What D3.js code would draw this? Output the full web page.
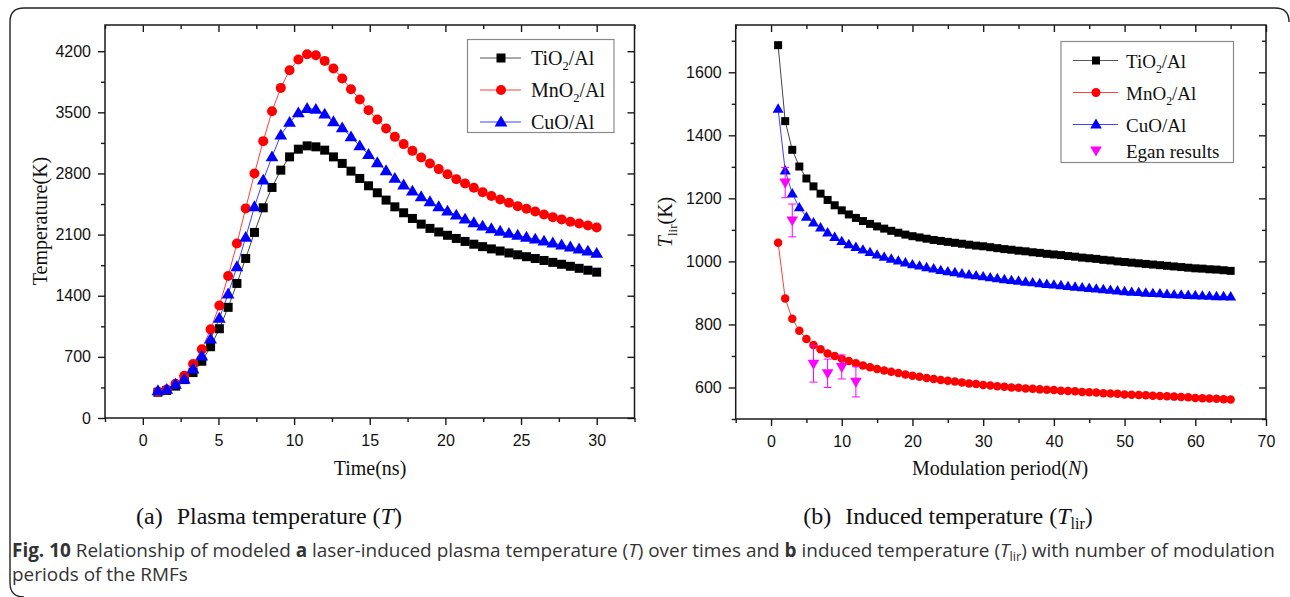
<!DOCTYPE html>
<html>
<head>
<meta charset="utf-8">
<script src="https://cdn.jsdelivr.net/npm/d3@7"></script>
<style>
  html, body { margin: 0; padding: 0; background: #fff; }
  svg { display: block; }
</style>
</head>
<body>
<svg id="fig" width="1290" height="597"></svg>
<script>
// ---------- DATA: panel (a) ----------
const timeNs = [1,1.58,2.16,2.74,3.32,3.9,4.48,5.06,5.64,6.22,6.8,7.38,7.96,8.54,9.12,9.7,10.28,10.86,11.44,12.02,
  12.6,13.18,13.76,14.34,14.92,15.5,16.08,16.66,17.24,17.82,18.4,18.98,19.56,20.14,20.72,21.3,21.88,22.46,23.04,23.62,
  24.2,24.78,25.36,25.94,26.52,27.1,27.68,28.26,28.84,29.42,30];
const tempTiO2 = [295,315,365,440,520,650,816,1022,1267,1541,1827,2125,2407,2640,2838,2990,3078,3116,3105,3067,
  2990,2915,2827,2743,2659,2579,2495,2418,2350,2285,2220,2171,2130,2092,2056,2022,1990,1962,1936,1912,
  1890,1869,1847,1826,1804,1782,1760,1737,1714,1692,1670];
const tempMnO2 = [301,325,392,484,618,786,1015,1289,1625,1999,2400,2800,3170,3513,3780,3982,4105,4166,4154,4089,
  4002,3888,3765,3647,3525,3418,3315,3219,3136,3059,2983,2915,2850,2792,2735,2686,2636,2586,2541,2502,
  2464,2426,2395,2365,2331,2300,2274,2247,2228,2205,2182];
const tempCuO = [312,328,386,443,561,710,904,1141,1419,1732,2068,2418,2724,2990,3239,3384,3494,3544,3533,3479,
  3391,3322,3219,3116,3017,2922,2830,2743,2667,2598,2533,2476,2418,2369,2323,2277,2235,2197,2166,2138,
  2114,2092,2069,2047,2025,2003,1981,1958,1935,1910,1885];
const aXTicks = [0,5,10,15,20,25,30];
const aYTicks = [0,700,1400,2100,2800,3500,4200];

// ---------- DATA: panel (b) ----------
const periodN = [1,2,3,4,5,6,7,8,9,10,11,12,13,14,15,16,17,18,19,20,21,22,23,24,25,26,27,28,29,30,31,32,33,
  34,35,36,37,38,39,40,41,42,43,44,45,46,47,48,49,50,51,52,53,54,55,56,57,58,59,60,61,62,63,64,65];
const tlirTiO2 = [1686,1445,1354,1301,1263,1238,1215,1195,1178,1162,1149,1138,1128,1119,1111,1104,1097,1091,1085,1080,
  1076,1072,1068,1065,1062,1059,1056,1053,1050,1048,1045,1042,1039,1037,1034,1032,1029,1027,1024,1022,
  1020,1017,1015,1012,1010,1008,1005,1003,1000,998,996,994,992,990,988,986,984,982,980,978,977,975,974,972,970];
const tlirMnO2 = [1059,882,818,780,754,735,721,708,700,691,684,677,670,664,659,654,650,646,641,637,
  634,630,627,624,621,619,616,613,611,608,606,604,602,600,599,597,596,594,593,592,
  590,589,588,586,585,584,582,581,580,578,577,576,575,574,573,572,571,570,569,567,566,565,564,563,562];
const tlirCuO = [1484,1288,1215,1171,1141,1123,1107,1091,1077,1064,1054,1045,1037,1029,1021,1014,1008,1002,996,990,
  986,981,977,972,968,965,961,958,955,952,949,946,943,940,938,935,933,930,928,926,
  924,921,919,917,915,913,911,909,907,905,903,902,900,899,898,896,895,894,893,892,891,890,889,889,888];
const eganN = [2,3,6,8,10,12];
const eganT = [1250,1130,675,645,665,618];
const eganErr = [48,52,58,45,38,48];
const bXTicks = [0,10,20,30,40,50,60,70];
const bYTicks = [600,800,1000,1200,1400,1600];

// ---------- drawing ----------
const svg = d3.select("#fig");
const SANS = "'Liberation Sans', Arial, sans-serif";
const SERIF = "'Liberation Serif', 'Times New Roman', serif";
const AX = "#1a1a1a";

svg.append("path")
  .attr("d", "M1289,22 Q1289,8 1275,8 L24,8 Q10,8 10,22 L10,583 Q10,597 24,597")
  .attr("fill", "none").attr("stroke", "#222").attr("stroke-width", 1.4);

const colors = {black: "#000000", red: "#ff0000", blue: "#0000ff", magenta: "#ff00ff"};
const lineColors = {black: "#444", red: "#ff4040", blue: "#4040ff"};

function marker(g, type, x, y, s, color) {
  if (type === "square") {
    g.append("rect").attr("x", x - s/2).attr("y", y - s/2).attr("width", s).attr("height", s).attr("fill", color);
  } else if (type === "circle") {
    g.append("circle").attr("cx", x).attr("cy", y).attr("r", s/2).attr("fill", color);
  } else if (type === "up") {
    const h = s * 0.95;
    g.append("path").attr("d", `M${x},${y - h*0.62} L${x + s*0.58},${y + h*0.42} L${x - s*0.58},${y + h*0.42} Z`).attr("fill", color);
  } else if (type === "down") {
    const h = s * 0.95;
    g.append("path").attr("d", `M${x},${y + h*0.62} L${x + s*0.58},${y - h*0.42} L${x - s*0.58},${y - h*0.42} Z`).attr("fill", color);
  }
}

const fmt = d3.format("d");
function frameAxes(g, x, y, xMajor, xMinor, yMajor, yMinor) {
  const [x0, x1] = x.range(), [y0, y1] = y.range();
  const MAJ = 7, MIN = 4;
  g.append("rect").attr("x", x0).attr("y", y1).attr("width", x1 - x0).attr("height", y0 - y1)
    .attr("fill", "none").attr("stroke", AX).attr("stroke-width", 1.5);
  const gxb = g.append("g").attr("transform", `translate(0,${y0})`)
    .call(d3.axisBottom(x).tickValues(xMajor).tickSize(MAJ).tickSizeOuter(0).tickPadding(10).tickFormat(fmt));
  g.append("g").attr("transform", `translate(0,${y0})`).call(d3.axisBottom(x).tickValues(xMinor).tickSize(MIN).tickSizeOuter(0).tickFormat(""));
  g.append("g").attr("transform", `translate(0,${y1})`).call(d3.axisBottom(x).tickValues(xMajor).tickSize(MAJ).tickSizeOuter(0).tickFormat(""));
  g.append("g").attr("transform", `translate(0,${y1})`).call(d3.axisBottom(x).tickValues(xMinor).tickSize(MIN).tickSizeOuter(0).tickFormat(""));
  g.append("g").attr("transform", `translate(${x0},0)`)
    .call(d3.axisLeft(y).tickValues(yMajor).tickSize(MAJ).tickSizeOuter(0).tickPadding(7).tickFormat(fmt));
  g.append("g").attr("transform", `translate(${x0},0)`).call(d3.axisLeft(y).tickValues(yMinor).tickSize(MIN).tickSizeOuter(0).tickFormat(""));
  g.append("g").attr("transform", `translate(${x1},0)`).call(d3.axisLeft(y).tickValues(yMajor).tickSize(MAJ).tickSizeOuter(0).tickFormat(""));
  g.append("g").attr("transform", `translate(${x1},0)`).call(d3.axisLeft(y).tickValues(yMinor).tickSize(MIN).tickSizeOuter(0).tickFormat(""));
  g.selectAll(".domain").remove();
  g.selectAll(".tick line").attr("stroke", AX).attr("stroke-width", 1.4);
  g.selectAll(".tick text").attr("font-family", SANS).attr("font-size", 16).attr("fill", "#111");
  gxb.selectAll(".tick text").attr("dy", "0.71em");
}

function legend(g, x0, y0, w, h, rows, fs) {
  g.append("rect").attr("x", x0).attr("y", y0).attr("width", w).attr("height", h)
    .attr("fill", "#fff").attr("stroke", "#8a8a8a").attr("stroke-width", 1.2);
  rows.forEach(r => {
    if (r.line) {
      g.append("line").attr("x1", r.lx1).attr("x2", r.lx2).attr("y1", r.y).attr("y2", r.y)
        .attr("stroke", r.line).attr("stroke-width", 1);
    }
    marker(g, r.type, r.mx, r.y, r.size, r.color);
    const t = g.append("text").attr("x", r.tx).attr("y", r.y + 7).attr("font-family", SERIF)
      .attr("font-size", fs).attr("fill", "#111");
    r.parts.forEach(p => {
      const ts = t.append("tspan").text(p.t);
      if (p.sub) ts.attr("font-size", fs * 0.62).attr("dy", 5);
      if (p.up) ts.attr("dy", -5);
    });
  });
}

// ===== Panel (a) =====
const ga = svg.append("g");
const xa = d3.scaleLinear().domain([-2.5, 32.5]).range([105, 634.5]);
const ya = d3.scaleLinear().domain([0, 4500]).range([418, 25]);
frameAxes(ga, xa, ya, aXTicks, [-2.5,2.5,7.5,12.5,17.5,22.5,27.5,32.5], aYTicks, [350,1050,1750,2450,3150,3850]);

const seriesA = [
  {v: tempTiO2, c: "black", type: "square", size: 9},
  {v: tempMnO2, c: "red", type: "circle", size: 10},
  {v: tempCuO, c: "blue", type: "up", size: 11}
];
seriesA.forEach(s => {
  const line = d3.line().x((d, i) => xa(timeNs[i])).y(d => ya(d));
  ga.append("path").datum(s.v).attr("d", line).attr("fill", "none").attr("stroke", lineColors[s.c]).attr("stroke-width", 1);
});
seriesA.forEach(s => {
  const mg = ga.append("g");
  s.v.forEach((d, i) => marker(mg, s.type, xa(timeNs[i]), ya(d), s.size, colors[s.c]));
});

legend(ga, 467.5, 39.5, 146.5, 93, [
  {y: 58, lx1: 480, lx2: 521, mx: 501, tx: 531, type: "square", size: 9, color: colors.black, line: "#555", parts: [{t: "TiO"}, {t: "2", sub: true}, {t: "/Al", up: true}]},
  {y: 90, lx1: 480, lx2: 521, mx: 501, tx: 531, type: "circle", size: 10, color: colors.red, line: lineColors.red, parts: [{t: "MnO"}, {t: "2", sub: true}, {t: "/Al", up: true}]},
  {y: 122, lx1: 480, lx2: 521, mx: 501, tx: 531, type: "up", size: 11, color: colors.blue, line: lineColors.blue, parts: [{t: "CuO/Al"}]}
], 20);

ga.append("text").attr("x", 370).attr("y", 475).attr("text-anchor", "middle")
  .attr("font-family", SERIF).attr("font-size", 20).attr("fill", "#111").text("Time(ns)");
ga.append("text").attr("transform", "translate(47,221) rotate(-90)").attr("text-anchor", "middle")
  .attr("font-family", SERIF).attr("font-size", 20).attr("fill", "#111").text("Temperature(K)");

// ===== Panel (b) =====
const gb = svg.append("g");
const xb = d3.scaleLinear().domain([-5, 70]).range([735.7, 1266]);
const yb = d3.scaleLinear().domain([500, 1750]).range([419, 25]);
frameAxes(gb, xb, yb, bXTicks, [-5,5,15,25,35,45,55,65], bYTicks, [500,700,900,1100,1300,1500,1700]);

const seriesB = [
  {v: tlirTiO2, c: "black", type: "square", size: 8},
  {v: tlirMnO2, c: "red", type: "circle", size: 8.5},
  {v: tlirCuO, c: "blue", type: "up", size: 9.5}
];
seriesB.forEach(s => {
  const line = d3.line().x((d, i) => xb(periodN[i])).y(d => yb(d));
  gb.append("path").datum(s.v).attr("d", line).attr("fill", "none").attr("stroke", lineColors[s.c]).attr("stroke-width", 1);
});
seriesB.forEach(s => {
  const mg = gb.append("g");
  s.v.forEach((d, i) => marker(mg, s.type, xb(periodN[i]), yb(d), s.size, colors[s.c]));
});
const eg = gb.append("g");
eganN.forEach((n, i) => {
  const x = xb(n), yt = yb(eganT[i] + eganErr[i]), ybt = yb(eganT[i] - eganErr[i]);
  eg.append("line").attr("x1", x).attr("x2", x).attr("y1", yt).attr("y2", ybt).attr("stroke", colors.magenta).attr("stroke-width", 1);
  [yt, ybt].forEach(yy => eg.append("line").attr("x1", x - 4).attr("x2", x + 4).attr("y1", yy).attr("y2", yy)
    .attr("stroke", colors.magenta).attr("stroke-width", 1));
  marker(eg, "down", x, yb(eganT[i]), 10, colors.magenta);
});

legend(gb, 1061, 41.5, 172.5, 121, [
  {y: 60.5, lx1: 1073, lx2: 1118, mx: 1096, tx: 1126, type: "square", size: 8, color: colors.black, line: "#555", parts: [{t: "TiO"}, {t: "2", sub: true}, {t: "/Al", up: true}]},
  {y: 92.5, lx1: 1073, lx2: 1118, mx: 1096, tx: 1126, type: "circle", size: 9, color: colors.red, line: lineColors.red, parts: [{t: "MnO"}, {t: "2", sub: true}, {t: "/Al", up: true}]},
  {y: 124.5, lx1: 1073, lx2: 1118, mx: 1096, tx: 1126, type: "up", size: 10, color: colors.blue, line: lineColors.blue, parts: [{t: "CuO/Al"}]},
  {y: 150.5, mx: 1096, tx: 1126, type: "down", size: 10, color: colors.magenta, line: null, parts: [{t: "Egan results"}]}
], 19);

gb.append("text").attr("x", 1000).attr("y", 475).attr("text-anchor", "middle")
  .attr("font-family", SERIF).attr("font-size", 20).attr("fill", "#111")
  .call(t => { t.append("tspan").text("Modulation period("); t.append("tspan").attr("font-style", "italic").text("N"); t.append("tspan").text(")"); });
gb.append("text").attr("transform", "translate(672,222) rotate(-90)").attr("text-anchor", "middle")
  .attr("font-family", SERIF).attr("font-size", 20).attr("fill", "#111")
  .call(t => {
    t.append("tspan").attr("font-style", "italic").text("T");
    t.append("tspan").attr("font-size", 13).attr("dy", 5).text("lir");
    t.append("tspan").attr("dy", -5).text("(K)");
  });

// ===== sub-captions =====
svg.append("text").attr("x", 269).attr("y", 524).attr("text-anchor", "middle")
  .attr("font-family", SERIF).attr("font-size", 24).attr("fill", "#111")
  .call(t => {
    t.append("tspan").text("(a)");
    t.append("tspan").attr("dx", 8).text(" Plasma temperature (");
    t.append("tspan").attr("font-style", "italic").text("T");
    t.append("tspan").text(")");
  });
svg.append("text").attr("x", 948).attr("y", 524).attr("text-anchor", "middle")
  .attr("font-family", SERIF).attr("font-size", 24).attr("fill", "#111")
  .call(t => {
    t.append("tspan").text("(b)");
    t.append("tspan").attr("dx", 8).text(" Induced temperature (");
    t.append("tspan").attr("font-style", "italic").text("T");
    t.append("tspan").attr("font-size", 16).attr("dy", 5).text("lir");
    t.append("tspan").attr("dy", -5).text(")");
  });

// ===== figure caption =====
const CAP = "'Open Sans', 'Noto Sans', sans-serif";
const capParts = [
  {t: "Fig. 10", b: true}, {t: " Relationship of modeled "}, {t: "a", b: true},
  {t: " laser-induced plasma temperature ("}, {t: "T", i: true}, {t: ") over times and "}, {t: "b", b: true},
  {t: " induced temperature ("}, {t: "T", i: true}, {t: "lir", sub: true}, {t: ") with number of modulation", back: true}
];
const capLine2 = "periods of the RMFs";
const g1 = svg.append("g");
const cap1 = g1.append("text").attr("x", 0).attr("y", 0).attr("font-family", CAP)
  .attr("font-size", 19).attr("fill", "#333");
capParts.forEach(p => {
  const ts = cap1.append("tspan").text(p.t);
  if (p.b) ts.attr("font-weight", "bold");
  if (p.i) ts.attr("font-style", "italic");
  if (p.sub) ts.attr("font-size", 13).attr("dy", 4);
  if (p.back) ts.attr("dy", -4);
});
const L1 = cap1.node().getComputedTextLength() || 1263;
const sx = 1263 / L1;
g1.attr("transform", `translate(12,557) scale(${sx},1)`);
const g2 = svg.append("g").attr("transform", `translate(12,581) scale(${sx},1)`);
g2.append("text").attr("x", 0).attr("y", 0).attr("font-family", CAP)
  .attr("font-size", 19).attr("fill", "#333").text(capLine2);
</script>
</body>
</html>
